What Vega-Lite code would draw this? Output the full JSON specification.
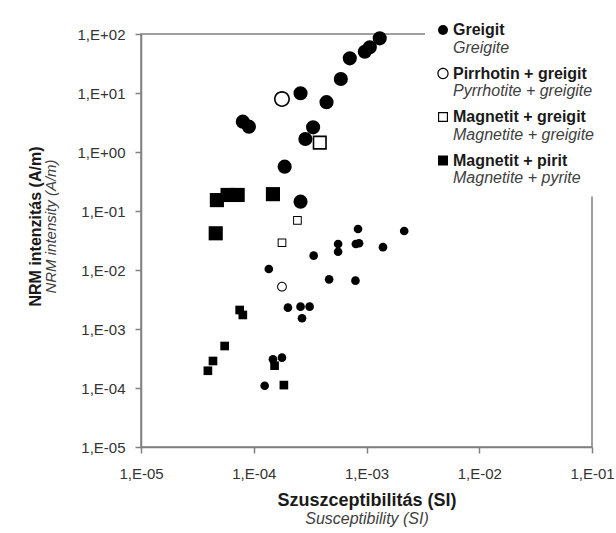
{
  "$schema": "https://vega.github.io/schema/vega-lite/v6.json",
  "width": 451,
  "height": 413,
  "autosize": {"type": "none"},
  "padding": {"left": 141, "top": 34, "right": 24, "bottom": 86},
  "background": "white",
  "config": {
    "view": {"stroke": "#808080", "strokeWidth": 1.5},
    "font": "Liberation Sans"
  },
  "data": {
    "values": [
      {"kappa": 1.31e-3, "nrm": 84.5, "asv": "Greigit", "en": "Greigite", "csoport": "A"},
      {"kappa": 1.07e-3, "nrm": 59.6, "asv": "Greigit", "en": "Greigite", "csoport": "A"},
      {"kappa": 9.66e-4, "nrm": 50, "asv": "Greigit", "en": "Greigite", "csoport": "A"},
      {"kappa": 7.11e-4, "nrm": 38.7, "asv": "Greigit", "en": "Greigite", "csoport": "A"},
      {"kappa": 5.92e-4, "nrm": 17.3, "asv": "Greigit", "en": "Greigite", "csoport": "A"},
      {"kappa": 2.6e-4, "nrm": 9.9, "asv": "Greigit", "en": "Greigite", "csoport": "A"},
      {"kappa": 4.42e-4, "nrm": 7.0, "asv": "Greigit", "en": "Greigite", "csoport": "A"},
      {"kappa": 8.0e-5, "nrm": 3.27, "asv": "Greigit", "en": "Greigite", "csoport": "A"},
      {"kappa": 9.06e-5, "nrm": 2.69, "asv": "Greigit", "en": "Greigite", "csoport": "A"},
      {"kappa": 3.36e-4, "nrm": 2.62, "asv": "Greigit", "en": "Greigite", "csoport": "A"},
      {"kappa": 2.87e-4, "nrm": 1.66, "asv": "Greigit", "en": "Greigite", "csoport": "A"},
      {"kappa": 1.88e-4, "nrm": 0.564, "asv": "Greigit", "en": "Greigite", "csoport": "A"},
      {"kappa": 2.6e-4, "nrm": 0.144, "asv": "Greigit", "en": "Greigite", "csoport": "A"},
      {"kappa": 1.78e-4, "nrm": 7.9, "asv": "Pirrhotin + greigit", "en": "Pyrrhotite + greigite", "csoport": "A"},
      {"kappa": 3.85e-4, "nrm": 1.44, "asv": "Magnetit + greigit", "en": "Magnetite + greigite", "csoport": "A"},
      {"kappa": 4.71e-5, "nrm": 0.153, "asv": "Magnetit + pirit", "en": "Magnetite + pyrite", "csoport": "A"},
      {"kappa": 5.86e-5, "nrm": 0.187, "asv": "Magnetit + pirit", "en": "Magnetite + pyrite", "csoport": "A"},
      {"kappa": 7.2e-5, "nrm": 0.187, "asv": "Magnetit + pirit", "en": "Magnetite + pyrite", "csoport": "A"},
      {"kappa": 1.48e-4, "nrm": 0.193, "asv": "Magnetit + pirit", "en": "Magnetite + pyrite", "csoport": "A"},
      {"kappa": 4.6e-5, "nrm": 0.0419, "asv": "Magnetit + pirit", "en": "Magnetite + pyrite", "csoport": "A"},
      {"kappa": 2.44e-4, "nrm": 0.0695, "asv": "Magnetit + greigit", "en": "Magnetite + greigite", "csoport": "B"},
      {"kappa": 1.78e-4, "nrm": 0.029, "asv": "Magnetit + greigit", "en": "Magnetite + greigite", "csoport": "B"},
      {"kappa": 1.78e-4, "nrm": 0.00521, "asv": "Pirrhotin + greigit", "en": "Pyrrhotite + greigite", "csoport": "B"},
      {"kappa": 8.41e-4, "nrm": 0.0495, "asv": "Greigit", "en": "Greigite", "csoport": "B"},
      {"kappa": 2.16e-3, "nrm": 0.0458, "asv": "Greigit", "en": "Greigite", "csoport": "B"},
      {"kappa": 5.6e-4, "nrm": 0.0276, "asv": "Greigit", "en": "Greigite", "csoport": "B"},
      {"kappa": 5.6e-4, "nrm": 0.0204, "asv": "Greigit", "en": "Greigite", "csoport": "B"},
      {"kappa": 8.04e-4, "nrm": 0.0276, "asv": "Greigit", "en": "Greigite", "csoport": "B"},
      {"kappa": 8.59e-4, "nrm": 0.0284, "asv": "Greigit", "en": "Greigite", "csoport": "B"},
      {"kappa": 1.4e-3, "nrm": 0.0244, "asv": "Greigit", "en": "Greigite", "csoport": "B"},
      {"kappa": 3.4e-4, "nrm": 0.0175, "asv": "Greigit", "en": "Greigite", "csoport": "B"},
      {"kappa": 1.36e-4, "nrm": 0.0104, "asv": "Greigit", "en": "Greigite", "csoport": "B"},
      {"kappa": 4.66e-4, "nrm": 0.00695, "asv": "Greigit", "en": "Greigite", "csoport": "B"},
      {"kappa": 7.98e-4, "nrm": 0.00659, "asv": "Greigit", "en": "Greigite", "csoport": "B"},
      {"kappa": 2.01e-4, "nrm": 0.0023, "asv": "Greigit", "en": "Greigite", "csoport": "B"},
      {"kappa": 2.6e-4, "nrm": 0.00239, "asv": "Greigit", "en": "Greigite", "csoport": "B"},
      {"kappa": 3.13e-4, "nrm": 0.00239, "asv": "Greigit", "en": "Greigite", "csoport": "B"},
      {"kappa": 2.68e-4, "nrm": 0.00152, "asv": "Greigit", "en": "Greigite", "csoport": "B"},
      {"kappa": 1.48e-4, "nrm": 3.06e-4, "asv": "Greigit", "en": "Greigite", "csoport": "B"},
      {"kappa": 1.78e-4, "nrm": 3.27e-4, "asv": "Greigit", "en": "Greigite", "csoport": "B"},
      {"kappa": 1.25e-4, "nrm": 1.09e-4, "asv": "Greigit", "en": "Greigite", "csoport": "B"},
      {"kappa": 7.5e-5, "nrm": 0.0021, "asv": "Magnetit + pirit", "en": "Magnetite + pyrite", "csoport": "B"},
      {"kappa": 8.0e-5, "nrm": 0.00173, "asv": "Magnetit + pirit", "en": "Magnetite + pyrite", "csoport": "B"},
      {"kappa": 5.52e-5, "nrm": 5.15e-4, "asv": "Magnetit + pirit", "en": "Magnetite + pyrite", "csoport": "B"},
      {"kappa": 4.35e-5, "nrm": 2.87e-4, "asv": "Magnetit + pirit", "en": "Magnetite + pyrite", "csoport": "B"},
      {"kappa": 3.92e-5, "nrm": 1.96e-4, "asv": "Magnetit + pirit", "en": "Magnetite + pyrite", "csoport": "B"},
      {"kappa": 1.53e-4, "nrm": 2.39e-4, "asv": "Magnetit + pirit", "en": "Magnetite + pyrite", "csoport": "B"},
      {"kappa": 1.85e-4, "nrm": 1.12e-4, "asv": "Magnetit + pirit", "en": "Magnetite + pyrite", "csoport": "B"}
    ]
  },
  "resolve": {"axis": {"x": "independent", "y": "independent"}},
  "layer": [
    {
      "mark": {"type": "point", "filled": true, "color": "#000000", "strokeWidth": 0, "opacity": 1},
      "encoding": {
        "x": {
          "field": "kappa", "type": "quantitative",
          "scale": {"type": "log", "domain": [1e-5, 1e-1], "nice": false},
          "axis": {
            "orient": "bottom",
            "values": [1e-5, 1e-4, 1e-3, 1e-2, 1e-1],
            "labelExpr": "'1,E' + (datum.value >= 1 ? '+' : '-') + format(abs(round(log(datum.value)/LN10)), '02d')",
            "title": "Szuszceptibilitás (SI)",
            "titleFont": "Liberation Sans", "titleFontSize": 18, "titleFontWeight": "bold", "titleColor": "#1a1a1a",
            "titlePadding": 10,
            "labelFont": "Liberation Sans", "labelFontSize": 15, "labelColor": "#333333", "labelPadding": 13,
            "labelFlush": false, "labelOverlap": false, "labelBound": false,
            "tickSize": 6, "tickColor": "#808080", "tickWidth": 1.5,
            "domainColor": "#808080", "domainWidth": 1.5, "grid": false
          }
        },
        "y": {
          "field": "nrm", "type": "quantitative",
          "scale": {"type": "log", "domain": [1e-5, 100], "nice": false},
          "axis": {
            "orient": "left",
            "values": [1e-5, 1e-4, 1e-3, 1e-2, 1e-1, 1, 10, 100],
            "labelExpr": "'1,E' + (datum.value >= 1 ? '+' : '-') + format(abs(round(log(datum.value)/LN10)), '02d')",
            "title": "NRM intenzitás (A/m)",
            "titleFont": "Liberation Sans", "titleFontSize": 16, "titleFontWeight": "bold", "titleColor": "#1a1a1a",
            "titlePadding": 34, "titleY": 192,
            "labelFont": "Liberation Sans", "labelFontSize": 15, "labelColor": "#333333", "labelPadding": 10,
            "labelOverlap": false, "labelBound": false, "labelFlush": false,
            "tickSize": 6, "tickColor": "#808080", "tickWidth": 1.5,
            "domainColor": "#808080", "domainWidth": 1.5, "grid": false
          }
        },
        "shape": {
          "field": "asv", "type": "nominal",
          "scale": {
            "domain": ["Greigit", "Pirrhotin + greigit", "Magnetit + greigit", "Magnetit + pirit"],
            "range": [
              "circle",
              "M0,-1.13A1.13,1.13,0,1,1,0,1.13A1.13,1.13,0,1,1,0,-1.13ZM0,-0.9A0.9,0.9,0,1,0,0,0.9A0.9,0.9,0,1,0,0,-0.9Z",
              "M-1,-1L1,-1L1,1L-1,1ZM-0.77,-0.77L-0.77,0.77L0.77,0.77L0.77,-0.77Z",
              "square"
            ]
          },
          "legend": {
            "orient": "none", "legendX": 294, "legendY": -12, "title": null,
            "labelFont": "Liberation Sans", "labelFontSize": 16, "labelFontWeight": "bold", "labelColor": "#1a1a1a",
            "symbolSize": 100, "symbolFillColor": "#000000", "symbolStrokeWidth": 0, "symbolOpacity": 1,
            "rowPadding": 27.5, "labelOffset": 2, "padding": 0, "zindex": 2, "direction": "vertical"
          }
        },
        "size": {
          "field": "csoport", "type": "ordinal",
          "scale": {"domain": ["A", "B"], "range": [200, 75]},
          "legend": null
        }
      }
    },
    {
      "mark": {"type": "point", "filled": false, "size": 10, "opacity": 0},
      "encoding": {
        "x": {
          "field": "kappa", "type": "quantitative",
          "scale": {"type": "log", "domain": [1e-5, 1e-1], "nice": false},
          "axis": {
            "orient": "bottom", "title": "Susceptibility (SI)",
            "labels": false, "ticks": false, "domain": false, "grid": false,
            "titleFont": "Liberation Sans", "titleFontSize": 16, "titleFontStyle": "italic", "titleFontWeight": "normal", "titleColor": "#404040",
            "titlePadding": 63
          }
        },
        "y": {
          "field": "nrm", "type": "quantitative",
          "scale": {"type": "log", "domain": [1e-5, 100], "nice": false},
          "axis": {
            "orient": "left", "title": "NRM intensity (A/m)",
            "labels": false, "ticks": false, "domain": false, "grid": false,
            "titleFont": "Liberation Sans", "titleFontSize": 15, "titleFontStyle": "italic", "titleFontWeight": "normal", "titleColor": "#404040",
            "titlePadding": 83, "titleY": 192
          }
        },
        "stroke": {
          "field": "en", "type": "nominal",
          "scale": {"domain": ["Greigite", "Pyrrhotite + greigite", "Magnetite + greigite", "Magnetite + pyrite"], "range": ["#ffffff", "#ffffff", "#ffffff", "#ffffff"]},
          "legend": {
            "orient": "none", "legendX": 284, "legendY": -4.5, "title": null,
            "labelFont": "Liberation Sans", "labelFontSize": 16, "labelFontStyle": "italic", "labelColor": "#404040",
            "symbolSize": 100, "symbolOpacity": 0, "symbolStrokeWidth": 0, "symbolType": "circle",
            "rowPadding": 27.5, "labelOffset": 2, "padding": 10, "fillColor": "white", "zindex": 1, "direction": "vertical"
          }
        }
      }
    }
  ]
}
